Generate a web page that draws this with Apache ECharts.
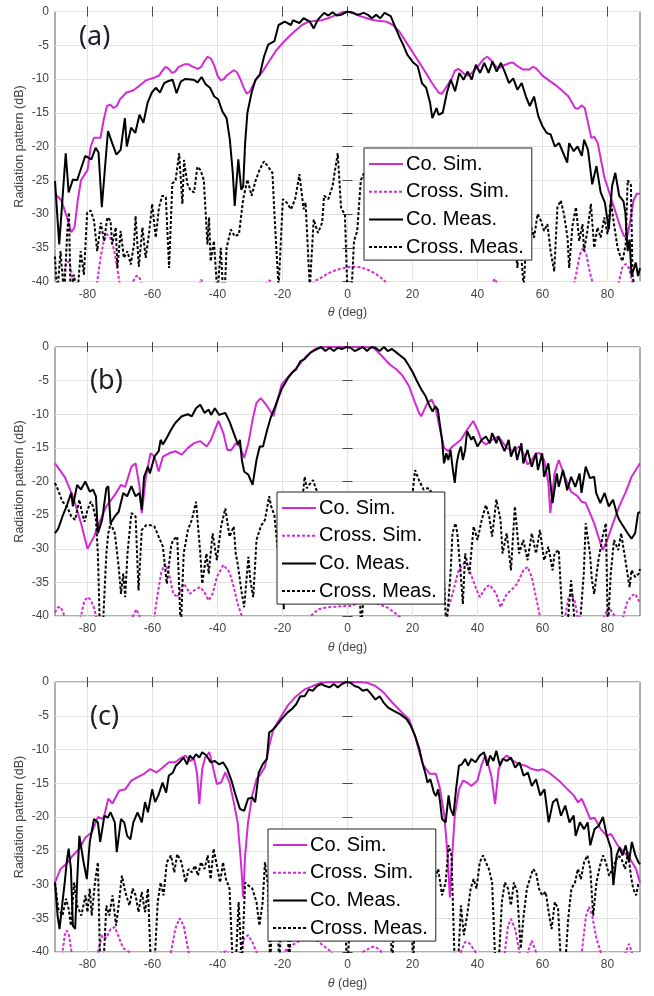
<!DOCTYPE html>
<html><head><meta charset="utf-8">
<script src="https://cdn.jsdelivr.net/npm/echarts@6/dist/echarts.min.js"></script>
<style>html,body{margin:0;padding:0;background:#fff}#c{width:654px;height:996px}</style>
</head><body><div id="c"></div>
<script>
const seriesNames = ['Co. Sim.', 'Cross. Sim.', 'Co. Meas.', 'Cross. Meas.'];
const xTicks = [-80, -60, -40, -20, 0, 20, 40, 60, 80];
const panelLabels = ['(a)', '(b)', '(c)'];
const yTitle = 'Radiation pattern (dB)';

// ---------- Panel (a) ----------
const A_coSim = [[-90,-27],[-88,-28],[-86,-31],[-85,-32.7],[-84,-32],[-83,-28],[-82,-25],[-80,-23.5],[-79,-20],[-78,-18.7],[-76,-18.7],[-75,-16],[-74,-14],[-73,-13.8],[-72,-14.3],[-71,-14],[-70,-13],[-68,-12],[-66,-11.7],[-64,-11],[-62,-10.2],[-60,-9.9],[-58,-9.5],[-57,-8.8],[-56,-8.2],[-55,-8.5],[-54,-9.1],[-53,-8.9],[-52,-8.2],[-50,-7.8],[-49,-7.8],[-48,-8.1],[-46,-8.5],[-45,-8.2],[-44,-7.3],[-43,-6.7],[-42,-7],[-41,-8],[-40,-9.5],[-39,-10.2],[-38,-10],[-37,-9.4],[-35,-8.7],[-34,-9],[-33,-10],[-32,-11.2],[-31,-12.2],[-30,-11.8],[-29,-10.8],[-28,-10],[-26,-8.8],[-24,-7.3],[-22,-5.8],[-20,-4.7],[-18,-3.7],[-16,-2.8],[-14,-2],[-12,-1.5],[-10,-1.4],[-8,-1.3],[-6,-1],[-4,-0.6],[-2,-0.2],[0,0],[2,-0.3],[4,-0.7],[6,-1],[8,-1.3],[10,-1.4],[12,-1.5],[14,-2],[16,-3],[18,-4.5],[20,-6],[22,-7.5],[24,-9],[26,-10.6],[28,-12],[29,-12.2],[30,-11.5],[32,-10],[33,-8.8],[34,-8.5],[35,-8.8],[36,-9.3],[37,-9.5],[38,-9.2],[40,-8.2],[42,-7],[43,-6.7],[44,-7.1],[45,-7.8],[46,-8.3],[47,-8.3],[48,-8],[50,-7.6],[51,-7.6],[52,-8],[54,-8.6],[56,-8.6],[57,-8.2],[58,-8.4],[60,-9.5],[62,-10.2],[64,-10.9],[66,-11.7],[68,-12.6],[70,-14.3],[71,-14.4],[72,-13.9],[73,-14.3],[74,-16.5],[75,-18.7],[76,-18.6],[77,-19.5],[78,-22],[79,-24.5],[80,-26],[82,-29],[84,-32],[85,-33.2],[86,-33.5],[87,-31],[88,-28],[89,-27],[90,-27]];
const A_crossSim = [[-90,-45],[-88,-42],[-87.5,-40],[-86.8,-37.6],[-86,-37],[-85.2,-37.8],[-84.5,-40],[-84,-42],[-78,-45],[-77,-40],[-76,-36.5],[-75,-34],[-74,-33],[-73,-33.5],[-72,-35],[-71,-37.5],[-70.2,-40],[-69,-45],[-66.5,-42],[-66,-40],[-65,-39.2],[-64.3,-39.2],[-63.5,-40],[-63,-42],[-47,-45],[-45.6,-40.5],[-45,-39.7],[-44.4,-40.5],[-43,-45],[-27,-45],[-25,-40.3],[-24,-39.8],[-23,-40.3],[-21,-45],[-12,-42],[-10.3,-40],[-8,-39.4],[-6,-38.8],[-4,-38.4],[-2,-38.1],[0,-37.9],[2,-37.8],[4,-37.9],[6,-38.2],[8,-38.7],[10,-39.3],[11.6,-40],[13,-42],[43,-45],[44.5,-40.3],[45.3,-39.6],[46,-40.3],[47,-45],[68,-45],[69.5,-41],[70.3,-39],[71.5,-36],[72.5,-35],[73.5,-36],[74.5,-38.5],[75.6,-40.5],[77,-45],[82,-45],[83.5,-40],[84.5,-38],[85.6,-37.4],[86.6,-38],[87.6,-40],[89,-45],[90,-45]];
const A_coMeas = [[-90,-25.1],[-88.7,-34.5],[-86.7,-21],[-85.8,-26.8],[-84.5,-24.9],[-83.2,-25],[-80.7,-21.4],[-78.8,-21.9],[-77.5,-20.2],[-76.6,-20.9],[-75.6,-29],[-73.7,-17.7],[-72.4,-19.5],[-71.1,-21.2],[-69.8,-20.5],[-68.5,-15.8],[-67.9,-20],[-66.6,-17.2],[-65.3,-18],[-64,-15.3],[-62.8,-16.5],[-61.5,-13.5],[-60.2,-12],[-59,-11.3],[-57.7,-12],[-56.4,-10.6],[-55.1,-10.3],[-53.8,-10.1],[-52.6,-12.1],[-51.3,-10.4],[-50,-10],[-47.4,-10.1],[-46.1,-10.5],[-44.9,-9.7],[-43.6,-10.8],[-42.3,-11.3],[-41,-12.6],[-39.8,-13],[-38.5,-14.8],[-37.2,-15.8],[-36.2,-19],[-35.3,-23.9],[-34.7,-28.8],[-33.6,-21.9],[-32.7,-26.4],[-32.1,-25.9],[-31.5,-19.5],[-30.8,-15],[-29.5,-12],[-28.3,-10.1],[-27,-9.4],[-25.7,-6.7],[-24.4,-4.9],[-22.5,-4.4],[-21.2,-2],[-19.3,-1.5],[-17.4,-2],[-16.8,-1.3],[-14.8,-1.7],[-13.5,-1],[-11.6,-1.5],[-10.4,-2.5],[-9.1,-1.2],[-7.2,-0.2],[-5.9,-0.6],[-4.6,-0.1],[-3.3,-0.6],[-2,-0.5],[0,0],[1.8,-0.2],[3.1,-0.5],[5,-0.2],[6.3,-0.5],[7.5,-1],[8.8,-0.5],[10.1,-1],[11.4,-0.2],[13.3,-0.7],[14.6,-2.2],[15.9,-3.7],[17.1,-4.9],[18.4,-6.4],[20.3,-7.6],[21.6,-8.1],[22.9,-10.6],[24.2,-11.3],[25.4,-13.5],[26.1,-15.8],[27.4,-14.3],[28,-15.3],[29.3,-15],[30.6,-12],[31.8,-10.1],[33.1,-11.8],[34.4,-9.1],[35.7,-10.1],[37,-8.9],[38.2,-10.1],[39.5,-7.9],[40.8,-9.1],[42.1,-7.6],[43.4,-9.1],[44.6,-7.4],[45.9,-8.9],[47.2,-7.6],[48.5,-9.1],[49.7,-10.6],[51,-9.9],[52.3,-11.6],[53.6,-10.6],[54.9,-12.6],[56.1,-14],[57.4,-12.6],[58.7,-15.5],[60,-17],[61.3,-18],[62.5,-18.2],[63.8,-20],[65.1,-19.5],[66.4,-21],[67.6,-22.4],[68.2,-19.5],[69.6,-20.7],[70.8,-20],[72.1,-21.4],[72.8,-19],[74,-20.5],[75.3,-25.6],[76.6,-22.9],[77.9,-26.8],[79.2,-28.3],[80.4,-32.3],[81.4,-25.9],[82.4,-23.9],[83.6,-27.3],[84.9,-28.1],[85.5,-29.8],[86.2,-35.5],[86.8,-33.8],[87.4,-39.2],[88.7,-37.2],[89.4,-39.2],[90,-38]];
const A_crossMeas = [[-90,-36.3],[-89.3,-42],[-88.3,-35.5],[-87.2,-42],[-86.2,-32.5],[-85.7,-29.8],[-85.2,-42],[-84.2,-39],[-83.1,-42],[-82.1,-35.5],[-81.1,-39],[-80.1,-29.8],[-79,-29.5],[-78,-31],[-77,-35.5],[-75.9,-31.3],[-74.9,-34],[-73.9,-30.5],[-72.9,-31],[-72.4,-34.5],[-71.3,-32],[-70.8,-38],[-69.8,-32.5],[-68.8,-36.5],[-67.7,-35.5],[-66.7,-37.5],[-65.7,-34.5],[-65.2,-30.3],[-64.2,-37.8],[-63.1,-32],[-62.1,-36.5],[-61.1,-33],[-60.1,-28.5],[-59,-33.5],[-58,-29],[-57,-27.3],[-55.9,-27.5],[-54.9,-38],[-53.9,-25.5],[-52.9,-25],[-51.8,-21],[-50.8,-28.5],[-50.3,-22],[-49.3,-25.5],[-48.3,-26.5],[-47.2,-26.8],[-46.2,-23],[-45.2,-23.5],[-44.2,-25],[-43.1,-34.5],[-42.6,-30.5],[-42.1,-37],[-41.1,-34],[-40,-42],[-39,-35],[-38,-44],[-37.2,-35],[-35.9,-32.3],[-34.7,-33.3],[-33.4,-33],[-32.1,-27.8],[-30.8,-24.9],[-29.5,-27.3],[-28.3,-25.1],[-27,-23.4],[-25.7,-22.2],[-24.4,-23],[-23.1,-23.9],[-22.5,-29.8],[-21.2,-41],[-19.9,-27.8],[-18.7,-28.3],[-17.4,-29.3],[-16.1,-27.8],[-14.8,-24.1],[-13.5,-29.3],[-12.9,-28.3],[-11.6,-41],[-10.4,-30.8],[-9.1,-32.8],[-7.8,-31.3],[-7.2,-27.3],[-5.9,-27.8],[-4.6,-25.9],[-4,-24],[-3,-21],[-2,-29],[-1.4,-29.6],[-0.8,-30],[0,-42],[1.2,-42],[2,-34],[3,-32.5],[4.1,-25],[5,-24],[6,-27],[7,-25],[8,-29],[9,-26],[10,-30],[11,-27],[12,-31],[13,-28],[14,-26],[15,-30],[16,-27],[17,-32],[18,-29],[19,-34],[20,-30],[21,-28],[22,-31],[23,-33],[24,-29],[25,-32],[26,-30],[27,-34],[28,-31],[29,-29],[30,-33],[31,-30],[32,-35],[33,-31],[34,-29],[35,-32],[36,-30],[37,-33],[38,-31],[39,-34],[40,-30],[41,-32],[42,-29],[43,-31],[44,-33],[45,-30],[46,-32],[47,-34],[48,-31],[49,-33],[50,-35],[51,-32],[52.3,-38],[53,-33],[54.2,-41],[55,-34],[56,-31],[57.4,-33.5],[58.5,-30],[59.5,-31],[60.5,-32.5],[61.5,-31.5],[62.5,-35.5],[63.6,-38.5],[64.6,-29],[65.6,-28],[66.6,-30],[67.7,-33.5],[68.2,-38],[69.2,-31.8],[70.3,-29],[71.3,-34],[72.3,-31.5],[72.8,-35.5],[73.8,-32.5],[74.9,-28.5],[75.9,-35],[76.9,-32],[77.9,-33.5],[79,-30.5],[80,-33],[81,-28],[82,-31.5],[83.1,-35],[84.1,-36.5],[84.6,-37],[85.6,-34.5],[86.2,-25],[87.2,-25.7],[87.7,-39],[88.7,-42],[89.7,-41],[90,-40.5]];

// ---------- Panel (b) ----------
const B_coSim = [[-90,-17.3],[-87,-19.3],[-84.5,-22.2],[-82,-26.2],[-80,-30],[-78,-28.2],[-76,-25.7],[-74.2,-23.7],[-71.6,-22],[-69.7,-20.5],[-68.4,-20.8],[-66.5,-17.8],[-65.2,-17.3],[-64,-20.7],[-63.3,-24.7],[-62,-19.2],[-60.6,-15.8],[-59.4,-16.3],[-58.1,-18.5],[-56.8,-16.3],[-54.9,-15.8],[-53,-15.5],[-51,-16],[-49.1,-15],[-47.2,-14.3],[-45.3,-14],[-43.3,-14.8],[-42,-13.8],[-40.8,-12.3],[-39.7,-11],[-38.2,-12.8],[-37,-15.3],[-35.7,-15.3],[-34.4,-14.3],[-33.1,-14.8],[-31.8,-16.5],[-30.5,-14.3],[-29.2,-10.8],[-28,-8.3],[-26.7,-7.6],[-24.7,-8.8],[-22.8,-10.3],[-21.5,-7.8],[-20.3,-5.6],[-17.7,-4.1],[-15.1,-2.8],[-12.6,-1.3],[-10,-0.3],[-7.4,0],[-5,0],[0,0],[5,0],[8,-0.1],[10.5,-1.3],[13,-2.6],[15,-3.3],[17,-4.3],[18.9,-5.8],[20.8,-8.3],[22,-9.8],[22.7,-10.3],[24.6,-8.3],[25.9,-7.8],[27.2,-9.3],[28.5,-12.3],[29.7,-15],[31,-15.5],[32.3,-14.8],[33.6,-14.3],[34.9,-13.8],[36.8,-12.3],[38.7,-11],[40,-12.3],[41.3,-14],[42.6,-14.5],[44.5,-13.8],[46.4,-13.3],[49,-15],[50.9,-15.5],[52.8,-14.8],[54.1,-15.8],[55.4,-17.5],[56.7,-16.8],[58,-15.8],[59.2,-15.8],[60.5,-16.8],[61.8,-20.2],[62.4,-24.7],[63.7,-18.8],[65,-16.8],[66.9,-19.3],[68.8,-21.5],[70.8,-22.2],[72,-23],[73.3,-23.2],[74.6,-24.7],[75.9,-26.2],[77.2,-28.2],[78.5,-30.2],[79.7,-29],[81.7,-26.2],[83.6,-23.7],[85.5,-21.7],[87.4,-19.3],[90,-17.3]];
const B_crossSim = [[-90,-39.5],[-89.2,-38.8],[-88.5,-38.6],[-87.7,-39.2],[-87,-40.2],[-86,-45],[-83,-42],[-82,-40],[-81,-37.8],[-80,-37.2],[-79,-37.6],[-78,-38.8],[-77.3,-40.2],[-76,-45],[-67,-44],[-66,-40],[-65,-39],[-64,-40],[-63,-44],[-60.5,-44],[-59.4,-40],[-58.5,-37],[-57.3,-33.5],[-56.2,-32.2],[-55,-33.5],[-53.6,-36.7],[-52.3,-37.2],[-51.3,-36],[-50.4,-35.2],[-49.5,-35.8],[-48.5,-36.7],[-47.2,-36.2],[-45.3,-35.7],[-44,-36.5],[-42.7,-37.7],[-41.5,-36.7],[-40.2,-34.2],[-38.2,-32.4],[-36.3,-33.5],[-35,-35.7],[-33.8,-38.2],[-32.5,-40],[-31,-45],[-13,-45],[-11.3,-40],[-9,-39],[-6.2,-38.7],[-3,-38.6],[0.3,-38.5],[1.5,-38.5],[4,-37.8],[7,-37.8],[10,-38.3],[12.5,-38.8],[14.5,-39.5],[16.5,-40.3],[18,-45],[29,-45],[30.4,-40],[32.3,-36.7],[34.2,-33.2],[36.2,-31.9],[37.5,-33.2],[39.4,-35.7],[40.7,-37.2],[42.6,-35.7],[43.8,-35.4],[45.8,-36.7],[47.1,-38.7],[49,-36.7],[50.3,-36.2],[52.2,-35.2],[54.1,-33.2],[55.4,-32.7],[56.7,-34.2],[58,-37.2],[59.2,-40],[60.5,-45],[66,-45],[67,-40],[68,-37.2],[68.9,-36.7],[69.9,-37.8],[70.8,-40],[72,-45],[78,-44],[79,-40],[80.4,-38.7],[81.5,-39.5],[82.3,-40],[83.5,-44],[84.9,-40],[86,-38],[87.4,-37],[88.5,-36.7],[89.6,-37.7],[90,-38]];
const B_coMeas = [[-90,-27.7],[-89,-27],[-87.7,-25.2],[-86.3,-23.5],[-85,-21.7],[-84.5,-23.7],[-83.2,-20.5],[-82,-21.2],[-80.7,-20],[-79.3,-21.5],[-78.3,-21.2],[-77.4,-22.2],[-76.8,-27.7],[-75.5,-25.7],[-74.2,-21],[-73.6,-20.7],[-72.9,-26.2],[-71.6,-25.2],[-70.4,-24.5],[-69,-21.7],[-67.8,-22.2],[-66.5,-20.7],[-65.2,-22.2],[-64,-21.7],[-63.3,-24.2],[-62.6,-19.3],[-61.4,-17.8],[-60.8,-18.8],[-59.4,-16.3],[-58.1,-15.5],[-57.5,-13.8],[-56.8,-14.5],[-55.6,-13.5],[-54.3,-12.3],[-53,-11.3],[-51,-10.3],[-49.1,-10],[-47.9,-10.3],[-46.6,-9.1],[-45.3,-8.6],[-44,-9.8],[-42.7,-9.3],[-42,-10.1],[-40.8,-9.1],[-39.5,-10.1],[-37.6,-9.8],[-36.3,-11.1],[-35,-12.8],[-33.7,-14.5],[-33.1,-13.8],[-32.5,-16.8],[-31.8,-18.5],[-30.5,-19],[-29.2,-20.5],[-28,-16.8],[-27,-14.8],[-26,-14.8],[-24.7,-12.3],[-23.5,-10.3],[-22.2,-8.8],[-20.3,-6.3],[-18.3,-4.6],[-17,-3.8],[-15.8,-3.3],[-14.5,-2.1],[-13.2,-1.8],[-11.3,-0.8],[-9.4,-0.3],[-8.1,0],[-6.8,-0.6],[-5.5,-0.1],[-4.2,-0.6],[-3,-0.1],[-1.7,-0.3],[-0.4,0],[0.9,-0.1],[2.2,-0.6],[3.5,-0.3],[4.7,0],[6,-0.6],[7.3,0],[8.6,-0.1],[9.9,-0.6],[11.2,0],[12.4,-0.6],[13.7,-0.3],[15,-0.8],[16.3,-1.3],[17.6,-1.8],[18.9,-2.8],[20.1,-3.8],[21.4,-5.1],[22.7,-6.3],[24,-7.3],[25.3,-8.8],[26.2,-9.6],[27,-8.8],[27.8,-9.3],[28.5,-11.8],[29.1,-13.8],[29.7,-17.3],[30.4,-15.8],[31,-16.8],[31.7,-15.3],[32.3,-17.8],[33,-20.2],[33.6,-17.3],[34.2,-15.8],[34.9,-14.8],[35.5,-16.8],[36.2,-15.3],[36.8,-12.5],[38.1,-13.8],[38.7,-13.3],[40,-14.8],[41.3,-13.8],[42.6,-13.3],[43.8,-14.3],[44.5,-12.8],[45.8,-14.3],[46.4,-13.3],[47.7,-14.8],[48.3,-15.5],[49.6,-13.8],[50.3,-16.3],[51.5,-14.8],[52.2,-16.8],[53.5,-14.3],[54.1,-17.3],[55.4,-15.3],[56.7,-17.8],[58,-15.8],[58.6,-18.3],[59.9,-15.8],[60.5,-19.3],[61.8,-17.3],[63.1,-23.2],[64.4,-18.8],[65,-20.8],[66.3,-18.3],[67.6,-21.3],[68.8,-19.3],[70.1,-20.8],[71.4,-18.8],[72,-21.7],[73.3,-17.8],[74.6,-19.5],[75.9,-19.3],[76.5,-21.7],[77.8,-23.2],[79.1,-21.7],[80.4,-23.7],[81.7,-22.7],[83,-25],[83.6,-25.7],[84.9,-26.7],[86.2,-27.7],[87.4,-28.5],[88.5,-27.7],[89.4,-24.7],[90,-24.5]];
const B_crossMeas = [[-90,-20.2],[-89.1,-21.2],[-87.7,-23],[-86.3,-23.7],[-85,-25.2],[-83.8,-25.7],[-82.5,-22.7],[-81.9,-24.2],[-80.9,-26],[-80,-24.2],[-79,-23],[-78.3,-23.7],[-77.4,-25.7],[-76.8,-30.7],[-76.2,-42],[-75.3,-42],[-74.2,-30.7],[-73.6,-27.7],[-72.9,-26.2],[-71.6,-27.7],[-70.4,-32.7],[-69.7,-36.7],[-69,-33.7],[-68.4,-37.2],[-67.7,-30.7],[-66.5,-24.7],[-65.2,-25.2],[-64.3,-36.2],[-63.3,-27.2],[-62,-26.5],[-60.6,-26.5],[-59.4,-26.7],[-58.1,-28.2],[-56.8,-29.7],[-55.6,-35.2],[-54.3,-29.7],[-53.7,-28.7],[-52.4,-28.2],[-51.3,-42],[-50.4,-30.7],[-49.1,-27.2],[-47.9,-25.7],[-46.6,-23],[-45.3,-30.7],[-44.7,-35.2],[-43.4,-30.7],[-42.7,-33.7],[-41.5,-27.7],[-40.2,-31.7],[-38.9,-26.7],[-37.6,-24],[-36.3,-28.2],[-35,-26.7],[-34.4,-30.7],[-33.8,-32.2],[-32.5,-36.7],[-31.8,-38.7],[-30.5,-31.2],[-29.9,-34.7],[-29,-37.2],[-28,-28.7],[-26.7,-26.7],[-25.4,-25.7],[-24.1,-22.2],[-23.5,-23.7],[-22.5,-25],[-21.5,-30],[-20.5,-27],[-19.6,-39],[-18.5,-28],[-17.5,-25],[-16.5,-29],[-15.5,-24],[-14.5,-26],[-13.2,-19.3],[-12.5,-21],[-11.8,-20.5],[-10.6,-19.8],[-9.8,-21],[-8.7,-22],[-7.5,-25],[-6.5,-28],[-5.5,-24],[-4.5,-27],[-3.5,-25],[-2.5,-29],[-1.5,-26],[-0.5,-30],[0.5,-27],[1.5,-31],[2.5,-29],[3.5,-34],[4.2,-42],[4.8,-42],[5.5,-33],[6.5,-28],[7.5,-30],[8.5,-26],[9.5,-29],[10.5,-27],[11.5,-31],[12.5,-28],[13.5,-26],[14.5,-30],[15.5,-27],[16.5,-29],[17.5,-25],[18.5,-27],[19.5,-24],[20.8,-18.3],[22,-19.8],[23.4,-21.2],[24.6,-21],[25.5,-21.2],[26.5,-25],[27.5,-28],[28.5,-26],[29.1,-25.7],[29.7,-34.7],[30.4,-42],[31.7,-33.7],[32.3,-27.7],[33.2,-26.2],[33.8,-27.7],[34.9,-34.2],[35.5,-38.2],[36.2,-30.7],[37.5,-33.7],[38.8,-26.7],[40,-28.7],[41.3,-25.7],[42.6,-23.5],[43.6,-25.2],[44.5,-28.2],[45.8,-22.7],[47.1,-25.7],[47.7,-30.7],[49,-27.7],[50.3,-33.2],[51.5,-23.7],[52.8,-30.7],[54.1,-28.7],[55.4,-31.7],[56.7,-27.7],[58,-30.7],[59.2,-27.2],[60.5,-31.7],[61.8,-29.7],[63.1,-33.2],[63.7,-30.7],[65,-30.2],[66.3,-42],[67.6,-42],[68.8,-34.7],[70.1,-42],[71.4,-42],[72.7,-33.7],[73.3,-26.2],[74.6,-30.7],[75.2,-34.7],[75.9,-36.7],[77.2,-31.7],[78.5,-28.2],[79.5,-26.2],[80.1,-42],[81,-33.7],[82,-28.7],[83.3,-30.2],[84.2,-27.7],[85.5,-31.7],[86.8,-35.7],[87.4,-33.2],[88.5,-34.2],[89.6,-33.7],[90,-33]];

// ---------- Panel (c) ----------
const C_coSim = [[-90,-29.7],[-88.3,-27.7],[-86.4,-26.9],[-84.5,-25.7],[-82.5,-24.7],[-80.6,-23],[-78.7,-22.3],[-76.8,-20],[-75.1,-20.3],[-73.6,-17.3],[-72.3,-18],[-70.3,-16.1],[-68.4,-15.9],[-66.5,-14.6],[-64.6,-14.1],[-62.6,-13.6],[-60.7,-12.9],[-58.8,-13.4],[-56.9,-12.7],[-55,-11.9],[-53,-11.9],[-51.7,-11.4],[-49.8,-10.9],[-48.5,-11.7],[-47.2,-11.4],[-46.3,-13.5],[-45.6,-18.1],[-44.7,-12.9],[-43.8,-11.2],[-42.5,-10.4],[-41.5,-12.4],[-40.2,-15.1],[-38.9,-14.9],[-37.6,-13.4],[-36.3,-14.9],[-35,-17.8],[-33.8,-20.8],[-32.7,-27.2],[-32.1,-31.9],[-31.5,-25.7],[-30.6,-20.8],[-29.3,-16.8],[-28,-14.4],[-26.7,-13.6],[-25.4,-12.6],[-24.1,-9.5],[-22.8,-7],[-20.9,-5.5],[-18.4,-3.5],[-15.8,-2.1],[-13.2,-1.1],[-10.7,-0.6],[-8.1,-0.1],[-5.5,0],[-3,0],[0.9,0],[3.5,0],[6,-0.1],[8.6,-0.6],[11.2,-1.6],[13.7,-3],[16.3,-4.3],[18.9,-5.5],[20.8,-8],[22.1,-10.4],[23.4,-12.4],[25.3,-13.6],[27.2,-13.6],[28.5,-15.9],[29.8,-19.8],[30.8,-25.7],[31.5,-31.9],[32.1,-26.7],[33,-19.8],[34.3,-15.9],[35.6,-14.6],[36.8,-14.9],[38.1,-15.4],[40,-14.6],[41.3,-12.2],[42.4,-10.9],[43.3,-12.2],[44.3,-14],[45.4,-18.1],[46.5,-12.9],[47.8,-11.4],[49,-10.9],[51,-11.7],[52.9,-12.2],[54.8,-12.4],[56.7,-12.9],[58.7,-13.1],[59.9,-12.9],[61.9,-13.4],[63.8,-14.1],[65.7,-14.9],[67.7,-15.9],[69.6,-16.8],[70.9,-17.8],[72.1,-17.3],[73.4,-18.8],[74.7,-20.3],[76,-20.1],[77.9,-21.8],[79.8,-22.8],[81.1,-22.5],[83.1,-24.2],[85,-25.2],[86.9,-26.2],[88.8,-27.7],[90,-29.7]];
const C_crossSim = [[-90,-45],[-88.5,-45],[-87.7,-40],[-87,-37.5],[-86.4,-36.8],[-85.7,-37.5],[-84.9,-40],[-84,-45],[-78,-45],[-76.8,-40],[-75.5,-37.5],[-74.2,-37.9],[-72.9,-36.6],[-71.6,-36.3],[-70.3,-37.9],[-69.1,-39.4],[-67.8,-39.8],[-66.5,-40.2],[-65,-45],[-56,-45],[-54.3,-40],[-53,-36.6],[-51.7,-35],[-50.4,-36.1],[-48.9,-40],[-47.5,-45],[-40,-45],[-38.9,-40.2],[-37.5,-39.9],[-36.5,-40.3],[-35,-45],[-33.1,-40],[-31.8,-38],[-30.6,-37.5],[-29.3,-38.5],[-28,-40],[-27,-45],[-21,-45],[-19.6,-40],[-17.1,-39],[-14.5,-38.3],[-11.9,-38],[-9.4,-38.3],[-6.8,-39.3],[-4.9,-40],[-3.5,-45],[3.5,-45],[4.7,-40],[7.3,-39.3],[8.5,-39.2],[9.9,-39.7],[11,-40.3],[12,-45],[33.5,-45],[34.9,-40],[36.2,-38.5],[37.5,-38.7],[39.4,-40],[40.5,-45],[47.3,-45],[48.4,-40],[49.4,-36.1],[50.3,-35.1],[51.6,-36.6],[52.9,-40],[54,-45],[54.5,-45],[55.5,-40],[56.7,-38.3],[58,-40],[59,-45],[71,-45],[72.1,-40],[73.4,-34.6],[74.3,-33.3],[75.3,-34.6],[76.6,-38],[77.9,-40],[79,-45],[84.5,-45],[85.6,-40],[86.6,-38.8],[87.5,-40],[88.5,-45],[90,-45]];
const C_coMeas = [[-90,-29.7],[-89.2,-34.6],[-88.6,-36.6],[-87.7,-32.6],[-87,-29.7],[-86.4,-26.7],[-85.8,-24.7],[-85.1,-27.7],[-84.5,-36.1],[-83.8,-36.6],[-83.2,-29.7],[-82.5,-22.8],[-81.9,-22.8],[-81.2,-26.7],[-80.2,-29.2],[-79.3,-23.7],[-78,-20.3],[-76.8,-20.8],[-76.1,-23.7],[-74.8,-19.8],[-73.8,-20.1],[-72.9,-19.3],[-71.6,-20.8],[-71,-25.2],[-69.7,-20.3],[-68.7,-20.8],[-67.8,-22.8],[-66.8,-23.3],[-65.9,-20.8],[-64.6,-19.3],[-63.3,-20.8],[-62.3,-17.8],[-61.4,-19.3],[-60.1,-15.9],[-59.2,-17.8],[-58.2,-16.8],[-56.9,-14.9],[-55.8,-16.4],[-55,-13.9],[-53.7,-13.4],[-52.8,-12.4],[-51.7,-11.9],[-50.4,-11.2],[-49.4,-12.2],[-48.5,-10.9],[-47.6,-11.4],[-46.6,-10.7],[-45.6,-11.2],[-44.7,-10.4],[-43.4,-10.9],[-42.1,-11.9],[-40.8,-11.7],[-39.5,-12.2],[-38.3,-11.9],[-37,-12.9],[-35.7,-14.6],[-34.4,-16.8],[-33.1,-18.8],[-31.8,-19.1],[-30.6,-17.3],[-29.3,-17.1],[-28.4,-17.8],[-27.3,-13.4],[-26.1,-12.2],[-24.8,-11.4],[-24.1,-7.5],[-22.8,-7],[-21.6,-6.3],[-20.3,-5.5],[-18.4,-4.5],[-17.1,-4],[-15.8,-3.3],[-14.5,-2.1],[-13.2,-2.1],[-11.9,-1.1],[-10.7,-1.3],[-9.4,-0.6],[-8.1,-0.3],[-6.8,-0.6],[-5.5,-0.8],[-4.2,-0.3],[-3,-0.8],[-1.7,-0.3],[-0.4,0],[0.9,-0.1],[2.2,-0.6],[3.5,-0.8],[4.7,-1.3],[6,-1.1],[7.3,-1.8],[8.6,-2.6],[9.9,-2.1],[11.2,-3.1],[12.5,-3.8],[14.4,-4.3],[16.3,-4.8],[18.2,-5.5],[19.5,-6.5],[20.8,-8],[22.1,-9.9],[23,-11.9],[24,-13.6],[24.6,-14.9],[25.5,-14.4],[26.6,-16.4],[27.2,-16.9],[27.9,-15.9],[28.5,-17.8],[29.1,-20.3],[30.2,-20.8],[31.1,-16.8],[31.7,-18.8],[32.6,-19.8],[33.4,-15.9],[34.3,-12.4],[35.2,-12.2],[36.2,-11.4],[37.1,-12.4],[38.1,-11.4],[39.4,-11.9],[40.7,-10.9],[42,-10.4],[43,-12.4],[43.9,-10.9],[44.9,-11.7],[45.8,-10.2],[46.9,-12.4],[47.8,-11.4],[49,-11.7],[50.3,-11.2],[51.6,-12.7],[52.9,-11.9],[54.2,-13.9],[55.5,-13.4],[56.7,-15.4],[58,-14.4],[59.3,-16.8],[60.6,-15.9],[61.9,-20.8],[63.2,-17.8],[64.4,-17.3],[65.7,-19.8],[67,-18.3],[68.3,-20.8],[69.6,-19.8],[70.2,-22.8],[71.5,-20.8],[72.8,-21.8],[73.9,-20.8],[74.7,-24.2],[76,-21.8],[77.3,-21.3],[78.6,-20],[79.8,-22.8],[81.1,-24.7],[81.8,-30.1],[82.8,-25.7],[83.7,-24.5],[84.6,-25.7],[85.6,-24.2],[86.6,-26.7],[87.5,-23.7],[88.6,-25.7],[89.5,-26.7],[90,-27]];
const C_crossMeas = [[-90,-29.7],[-89,-33.6],[-87.7,-34.6],[-86.6,-32.1],[-85.8,-33.6],[-85.1,-36.1],[-84.1,-29.7],[-83.2,-33.1],[-81.9,-34.6],[-80.6,-31.6],[-80,-34.1],[-79.3,-30.6],[-78.7,-34.6],[-77.7,-29.7],[-76.8,-26.7],[-76.1,-42],[-75.1,-42],[-74.2,-33.1],[-73.3,-34.6],[-72.3,-31.6],[-71.2,-36.1],[-70.3,-32.6],[-69.4,-28.7],[-68.4,-31.1],[-67.1,-33.1],[-66.1,-30.6],[-65.2,-31.6],[-64.3,-34.1],[-63.3,-31.1],[-62.3,-34.1],[-61.4,-30.6],[-60.5,-42],[-59.4,-42],[-58.4,-32.6],[-57.5,-29.7],[-56.6,-31.6],[-55.6,-26.7],[-54.3,-25.7],[-53.3,-28.2],[-52.4,-25.5],[-51.1,-26.7],[-49.8,-29.7],[-48.9,-27.7],[-47.9,-28.2],[-46.9,-27.2],[-46,-28.7],[-45.1,-26.7],[-44,-27.7],[-43,-25.7],[-42.1,-29.2],[-41.2,-24.7],[-40.2,-27.2],[-39.2,-29.7],[-38.3,-26.7],[-37.4,-29.2],[-36.3,-30.6],[-35.3,-42],[-34.4,-42],[-33.5,-32.6],[-32.5,-42],[-31.5,-29.7],[-30.6,-30.1],[-29.3,-30.6],[-28,-32.6],[-27.1,-36.1],[-26.1,-32.6],[-25.4,-26.7],[-24.5,-30],[-23.8,-42],[-23,-33],[-22,-29],[-21,-42],[-20,-31],[-19,-28],[-18,-42],[-17,-33],[-16,-30],[-15,-34],[-14,-31],[-13,-35],[-12,-32],[-11,-36],[-10,-33],[-9,-30],[-8,-34],[-7,-31],[-6,-35],[-5,-32],[-4,-36],[-3,-33],[-2,-31],[-1,-35],[0,-42],[1,-34],[2,-31],[3,-35],[4,-32],[5,-36],[6,-33],[7,-37],[8,-34],[9,-31],[10,-35],[11,-32],[12,-36],[13,-33],[13.7,-42],[14.5,-34],[15.5,-31],[16.5,-35],[17.5,-32],[18.5,-29],[19.5,-33],[20.2,-42],[21,-31],[22,-28],[23,-32],[24,-29],[25,-31],[26,-27],[27,-29],[27.9,-27.7],[29.1,-31.6],[30.2,-29.7],[31.1,-24.2],[32,-25.7],[33,-42],[34,-42],[34.9,-33.1],[35.8,-37.5],[36.8,-34.6],[37.9,-30.6],[38.8,-29.2],[39.7,-30.6],[40.7,-26.7],[41.7,-25.7],[42.6,-26.7],[43.5,-27.7],[44.5,-29.7],[45.5,-42],[46.5,-42],[47.5,-32.6],[48.4,-29.7],[49.4,-30.6],[50.3,-33.1],[51.2,-29.7],[52.2,-31.1],[53.3,-39.5],[54.2,-34.6],[55.2,-30.6],[56.1,-29.2],[57.1,-27.7],[58,-28.2],[58.9,-30.6],[59.9,-31.6],[61,-31.1],[61.9,-34.1],[62.8,-36.6],[63.8,-32.6],[64.8,-33.6],[65.7,-42],[67,-42],[67.9,-35.1],[68.9,-30.6],[70,-29.7],[70.9,-27.7],[71.8,-29.2],[72.8,-26.7],[73.8,-25.7],[74.7,-27.7],[75.6,-34.6],[76.6,-29.7],[77.7,-27.2],[78.6,-25.7],[79.5,-26.7],[80.5,-28.7],[81.5,-27.7],[82.4,-26.7],[83.3,-25.7],[84.3,-26.2],[85.4,-27.7],[86.3,-25.2],[87.2,-28.7],[87.9,-30.6],[88.8,-31.6],[89.5,-29.9],[90,-30]];

// ---------- layout / styles ----------
const FONT = "'Liberation Sans', Arial, sans-serif";
const MAGENTA = '#d42ad4';
const panels = [
  { top: 11.5, height: 270, label: [79, 37.5], legend: [364, 148], data: [A_coSim, A_crossSim, A_coMeas, A_crossMeas] },
  { top: 347, height: 269, label: [90, 381], legend: [277, 492], data: [B_coSim, B_crossSim, B_coMeas, B_crossMeas] },
  { top: 682, height: 270, label: [90, 717.5], legend: [268, 829], data: [C_coSim, C_crossSim, C_coMeas, C_crossMeas] }
];
const styles = [
  { color: MAGENTA, type: 'solid' },
  { color: MAGENTA, type: [3, 2] },
  { color: '#000000', type: 'solid' },
  { color: '#000000', type: [3, 2] }
];

const grid = [], xAxis = [], yAxis = [], series = [], legend = [], graphic = [];
panels.forEach((p, i) => {
  grid.push({ left: 55, width: 585, top: p.top, height: p.height, show: true, borderColor: '#5e5e5e', borderWidth: 1, backgroundColor: '#fff' });
  const tick = { inside: true, length: 5, lineStyle: { color: '#444', width: 1 } };
  xAxis.push({
    gridIndex: i, type: 'value', min: -90, max: 90, position: 'bottom',
    axisLine: { show: false },
    axisTick: Object.assign({ customValues: xTicks }, tick),
    axisLabel: { customValues: xTicks, color: '#444', fontSize: 12, fontFamily: FONT, margin: 7 },
    splitLine: { show: true, lineStyle: { color: '#e3e3e3', width: 1 } },
    name: '{it|θ} (deg)', nameLocation: 'middle', nameGap: 25,
    nameTextStyle: { color: '#444', fontSize: 12.5, fontFamily: FONT, rich: { it: { fontStyle: 'italic', color: '#444', fontSize: 12.5, fontFamily: FONT } } }
  });
  xAxis.push({
    gridIndex: i, type: 'value', min: -90, max: 90, position: 'top',
    axisLine: { show: false }, axisLabel: { show: false }, splitLine: { show: false },
    axisTick: Object.assign({ customValues: xTicks }, tick)
  });
  yAxis.push({
    gridIndex: i, type: 'value', min: -40, max: 0, interval: 5, position: 'left',
    axisLine: { show: false }, axisTick: tick,
    axisLabel: { color: '#444', fontSize: 12, fontFamily: FONT, margin: 6 },
    splitLine: { show: true, lineStyle: { color: '#e3e3e3', width: 1 } }
  });
  yAxis.push({
    gridIndex: i, type: 'value', min: -40, max: 0, interval: 5, position: 'right',
    axisLine: { show: false }, axisLabel: { show: false }, splitLine: { show: false }, axisTick: tick
  });
  p.data.forEach((d, k) => {
    series.push({
      type: 'line', name: seriesNames[k], xAxisIndex: 2 * i, yAxisIndex: 2 * i,
      data: d, symbol: 'none', clip: true, smooth: false,
      lineStyle: { color: styles[k].color, type: styles[k].type, width: 2 },
      itemStyle: { color: styles[k].color },
      z: 2 + k
    });
  });
  legend.push({
    left: p.legend[0], top: p.legend[1], orient: 'vertical', data: seriesNames,
    backgroundColor: '#fff', borderColor: '#222', borderWidth: 1,
    padding: [6, 8, 3, 4], itemGap: 7.7, itemWidth: 34, itemHeight: 14,
    itemStyle: { opacity: 0 },
    textStyle: { fontSize: 20, color: '#000', fontFamily: FONT, padding: [0, 0, 0, -2] },
    selectedMode: false, z: 10
  });
  graphic.push({
    type: 'text', x: p.label[0], y: p.label[1], z: 20,
    style: { text: panelLabels[i], font: "27px 'Noto Sans', sans-serif", fill: '#1e1e28', verticalAlign: 'middle', align: 'left' }
  });
  graphic.push({
    type: 'text', x: 19.5, y: p.top + p.height / 2, rotation: Math.PI / 2, z: 20,
    style: { text: yTitle, font: "12.5px 'Liberation Sans', Arial, sans-serif", fill: '#444', verticalAlign: 'middle', align: 'center' }
  });
});

const chart = echarts.init(document.getElementById('c'), null, { renderer: 'canvas' });
chart.setOption({ animation: false, backgroundColor: '#fff', grid, xAxis, yAxis, series, legend, graphic });
</script></body></html>
